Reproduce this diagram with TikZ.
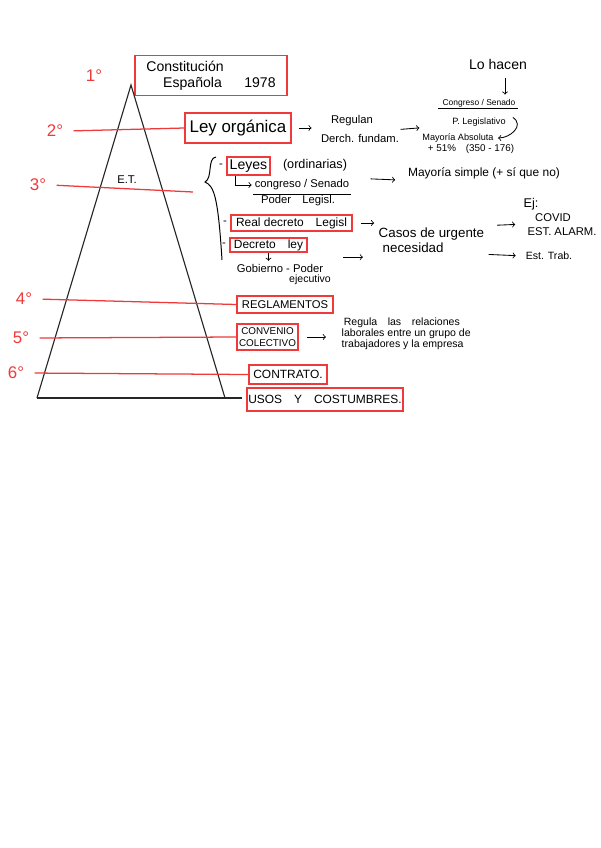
\documentclass[tikz,border=0pt]{standalone}
\usepackage{fontspec}
\setmainfont{Liberation Sans}
\usetikzlibrary{positioning}
\definecolor{marker}{RGB}{238,58,58}

\begin{document}
\begin{tikzpicture}[
    x=0.025cm, y=-0.025cm,
    rank/.style={text=marker, font=\fontsize{12}{12}\selectfont},
    lawbox/.style={draw=marker, line width=1.3pt, inner sep=1pt,
                   font=\fontsize{8.5}{10}\selectfont},
    note/.style={font=\fontsize{8}{9}\selectfont, inner sep=1pt},
    tinynote/.style={font=\fontsize{6.5}{7.5}\selectfont, inner sep=1pt},
    tierline/.style={draw=marker, line width=0.9pt},
    pyramid/.style={draw=black!85, line width=0.8pt},
    arrow/.style={->, line width=0.6pt}
]
\useasboundingbox (0,0) rectangle (600,848);

% grados de la jerarquia
\node[rank] (g1) at (94,76) {1°};
\node[rank] (g2) at (55,131) {2°};
\node[rank] (g3) at (38,185) {3°};
\node[rank] (g4) at (24,299) {4°};
\node[rank] (g5) at (21,338) {5°};
\node[rank] (g6) at (16,373) {6°};

% normas
\node[lawbox, minimum width=3.78cm, minimum height=1cm, align=left,
      font=\fontsize{10}{11.5}\selectfont] (const) at (211,75.5)
      {Constitución\hspace{2.5em}\mbox{}\\\hspace{1.2em}Española\hspace{1.6em}1978};
\node[lawbox, minimum width=2.63cm, minimum height=0.73cm,
      font=\fontsize{12}{12}\selectfont] (leyorg) at (238,128) {Ley orgánica};
\node[lawbox, minimum width=1.08cm, minimum height=0.45cm,
      font=\fontsize{10}{10}\selectfont] (leyes) at (248.5,166) {Leyes};
\node[lawbox, minimum width=3.03cm, minimum height=0.4cm] (realdec) at (291.5,223)
      {Real decreto\quad Legisl};
\node[lawbox, minimum width=1.93cm, minimum height=0.35cm] (decley) at (268.5,245)
      {Decreto\quad ley};
\node[lawbox, minimum width=2.4cm, minimum height=0.43cm,
      font=\fontsize{8}{9}\selectfont] (regl) at (285,304.5) {REGLAMENTOS};
\node[lawbox, minimum width=1.53cm, minimum height=0.65cm, align=center,
      font=\fontsize{7}{8.5}\selectfont] (conv) at (267.5,337) {CONVENIO\\COLECTIVO};
\node[lawbox, minimum width=1.95cm, minimum height=0.48cm] (contr) at (288,374.5)
      {CONTRATO.};
\node[lawbox, minimum width=3.65cm, minimum height=0.58cm] (usos) at (325,399.5)
      {USOS\quad Y\quad COSTUMBRES.};

\node[note, left=1pt of leyes] (dash1) {-};
\node[note, left=1pt of realdec] (dash2) {-};
\node[note, left=1pt of decley] (dash3) {-};

% notas de ley organica
\node[note] (regulan) at (352,121) {Regulan};
\node[note] (derch) at (360,138) {Derch. fundam.};
\node[font=\fontsize{10}{10}\selectfont] (lohacen) at (498,64) {Lo hacen};
\node[tinynote, font=\fontsize{6}{7}\selectfont] (congsen) at (479,103)
      {Congreso / Senado};
\node[tinynote] (plegis) at (479,122) {P. Legislativo};
\node[tinynote] (mayabs) at (458,138) {Mayoría Absoluta};
\node[tinynote, font=\fontsize{7}{8}\selectfont] (pct) at (471,149)
      {+ 51\%\quad(350 - 176)};

% notas de leyes ordinarias
\node[font=\fontsize{9}{9}\selectfont] (ordin) at (315,165) {(ordinarias)};
\node[note] (congsen2) at (302,185) {congreso / Senado};
\node[note] (poderleg) at (298,201) {Poder\quad Legisl.};
\node[note, font=\fontsize{8.5}{9}\selectfont] (maysimp) at (484,173)
      {Mayoría simple (+ sí que no)};
\node[note] (et) at (127,180) {E.T.};

% decretos
\node[note, anchor=west, align=left, font=\fontsize{9.5}{11}\selectfont] (casos)
      at (377,240) {Casos de urgente\\\hspace{0.3em}necesidad};
\node[note, font=\fontsize{9}{9}\selectfont] (ej) at (531,204) {Ej:};
\node[note] (covid) at (553,218) {COVID};
\node[note] (estalarm) at (562,232) {EST. ALARM.};
\node[note, font=\fontsize{7.5}{8}\selectfont] (esttrab) at (549,256) {Est. Trab.};
\node[note] (gobierno) at (280,268) {Gobierno - Poder};
\node[note, font=\fontsize{7.5}{8}\selectfont] (ejec) at (310,280) {ejecutivo};

% convenio
\node[tinynote, anchor=west, align=left, font=\fontsize{7.5}{7.8}\selectfont] (regula)
      at (340,334)
      {\hspace{0.2em}Regula\quad las\quad relaciones\\
       laborales entre un grupo de\\
       trabajadores y la empresa};

% piramide
\coordinate (apex) at (131,85);
\coordinate (baseL) at (37,398);
\coordinate (baseR) at (225,398);
\coordinate (tier3) at (193,192);
\draw[pyramid] (baseL) -- (apex) -- (baseR);
\draw[pyramid] (baseL) -- ([xshift=-3pt]baseL -| usos.west);

% lineas rojas
\draw[tierline, shorten <=4pt] (g2.east) -- (leyorg.west);
\draw[tierline, shorten <=4pt] (g3.east) -- (tier3);
\draw[tierline, shorten <=4pt] (g4.east) -- (regl.west);
\draw[tierline, shorten <=4pt] (g5.east) -- (conv.west);
\draw[tierline, shorten <=4pt] (g6.east) -- (contr.west);

% llave
\draw[line width=0.7pt] (216,157) .. controls (207,158) and (213,178) .. (205,182)
      .. controls (214,186) and (218,196) .. (222,260);

% flechas
\draw[arrow, shorten <=5pt, shorten >=5.5pt] (leyorg.east) -- (leyorg.east -| derch.west);
\draw[arrow, shorten >=1pt] ([yshift=2pt]derch.north east) -- ([yshift=3pt]mayabs.north west);
\draw[arrow, shorten <=3pt, shorten >=2pt] ([xshift=5pt]lohacen.south)
      -- ([xshift=5pt]lohacen.south |- congsen.north);
\draw[line width=0.6pt] ([xshift=-2pt]congsen.south west) -- ([xshift=1pt]congsen.south east);
\draw[arrow] ([xshift=4pt,yshift=-1pt]plegis.north east) .. controls +(12,8) and +(12,0)
      .. ([xshift=2pt]mayabs.east);
\draw[arrow, shorten >=1pt] ([xshift=7pt]leyes.south west) |- (congsen2.west);
\draw[line width=0.6pt] ([yshift=-2pt]congsen2.south west) -- ([yshift=-2pt]congsen2.south east);
\draw[arrow, shorten <=14pt, shorten >=8pt] (congsen2.north east) -- (maysimp.south west);
\draw[arrow, shorten <=5.5pt, shorten >=2pt] (realdec.east) -- (realdec.east -| casos.west);
\draw[arrow, shorten <=25pt, shorten >=10pt] ([yshift=-3pt]decley.south east)
      -- ([yshift=-3pt]decley.south east -| casos.west);
\draw[arrow, shorten >=1pt] (decley.south) -- (decley.south |- gobierno.north);
\draw[arrow, shorten <=8pt, shorten >=13pt] (casos.north east) -- (covid.south west);
\draw[arrow, shorten <=2pt, shorten >=6pt] (casos.south east) -- (esttrab.west);
\draw[arrow, shorten <=5.5pt, shorten >=10pt] (conv.east) -- (conv.east -| regula.west);
\end{tikzpicture}
\end{document}
